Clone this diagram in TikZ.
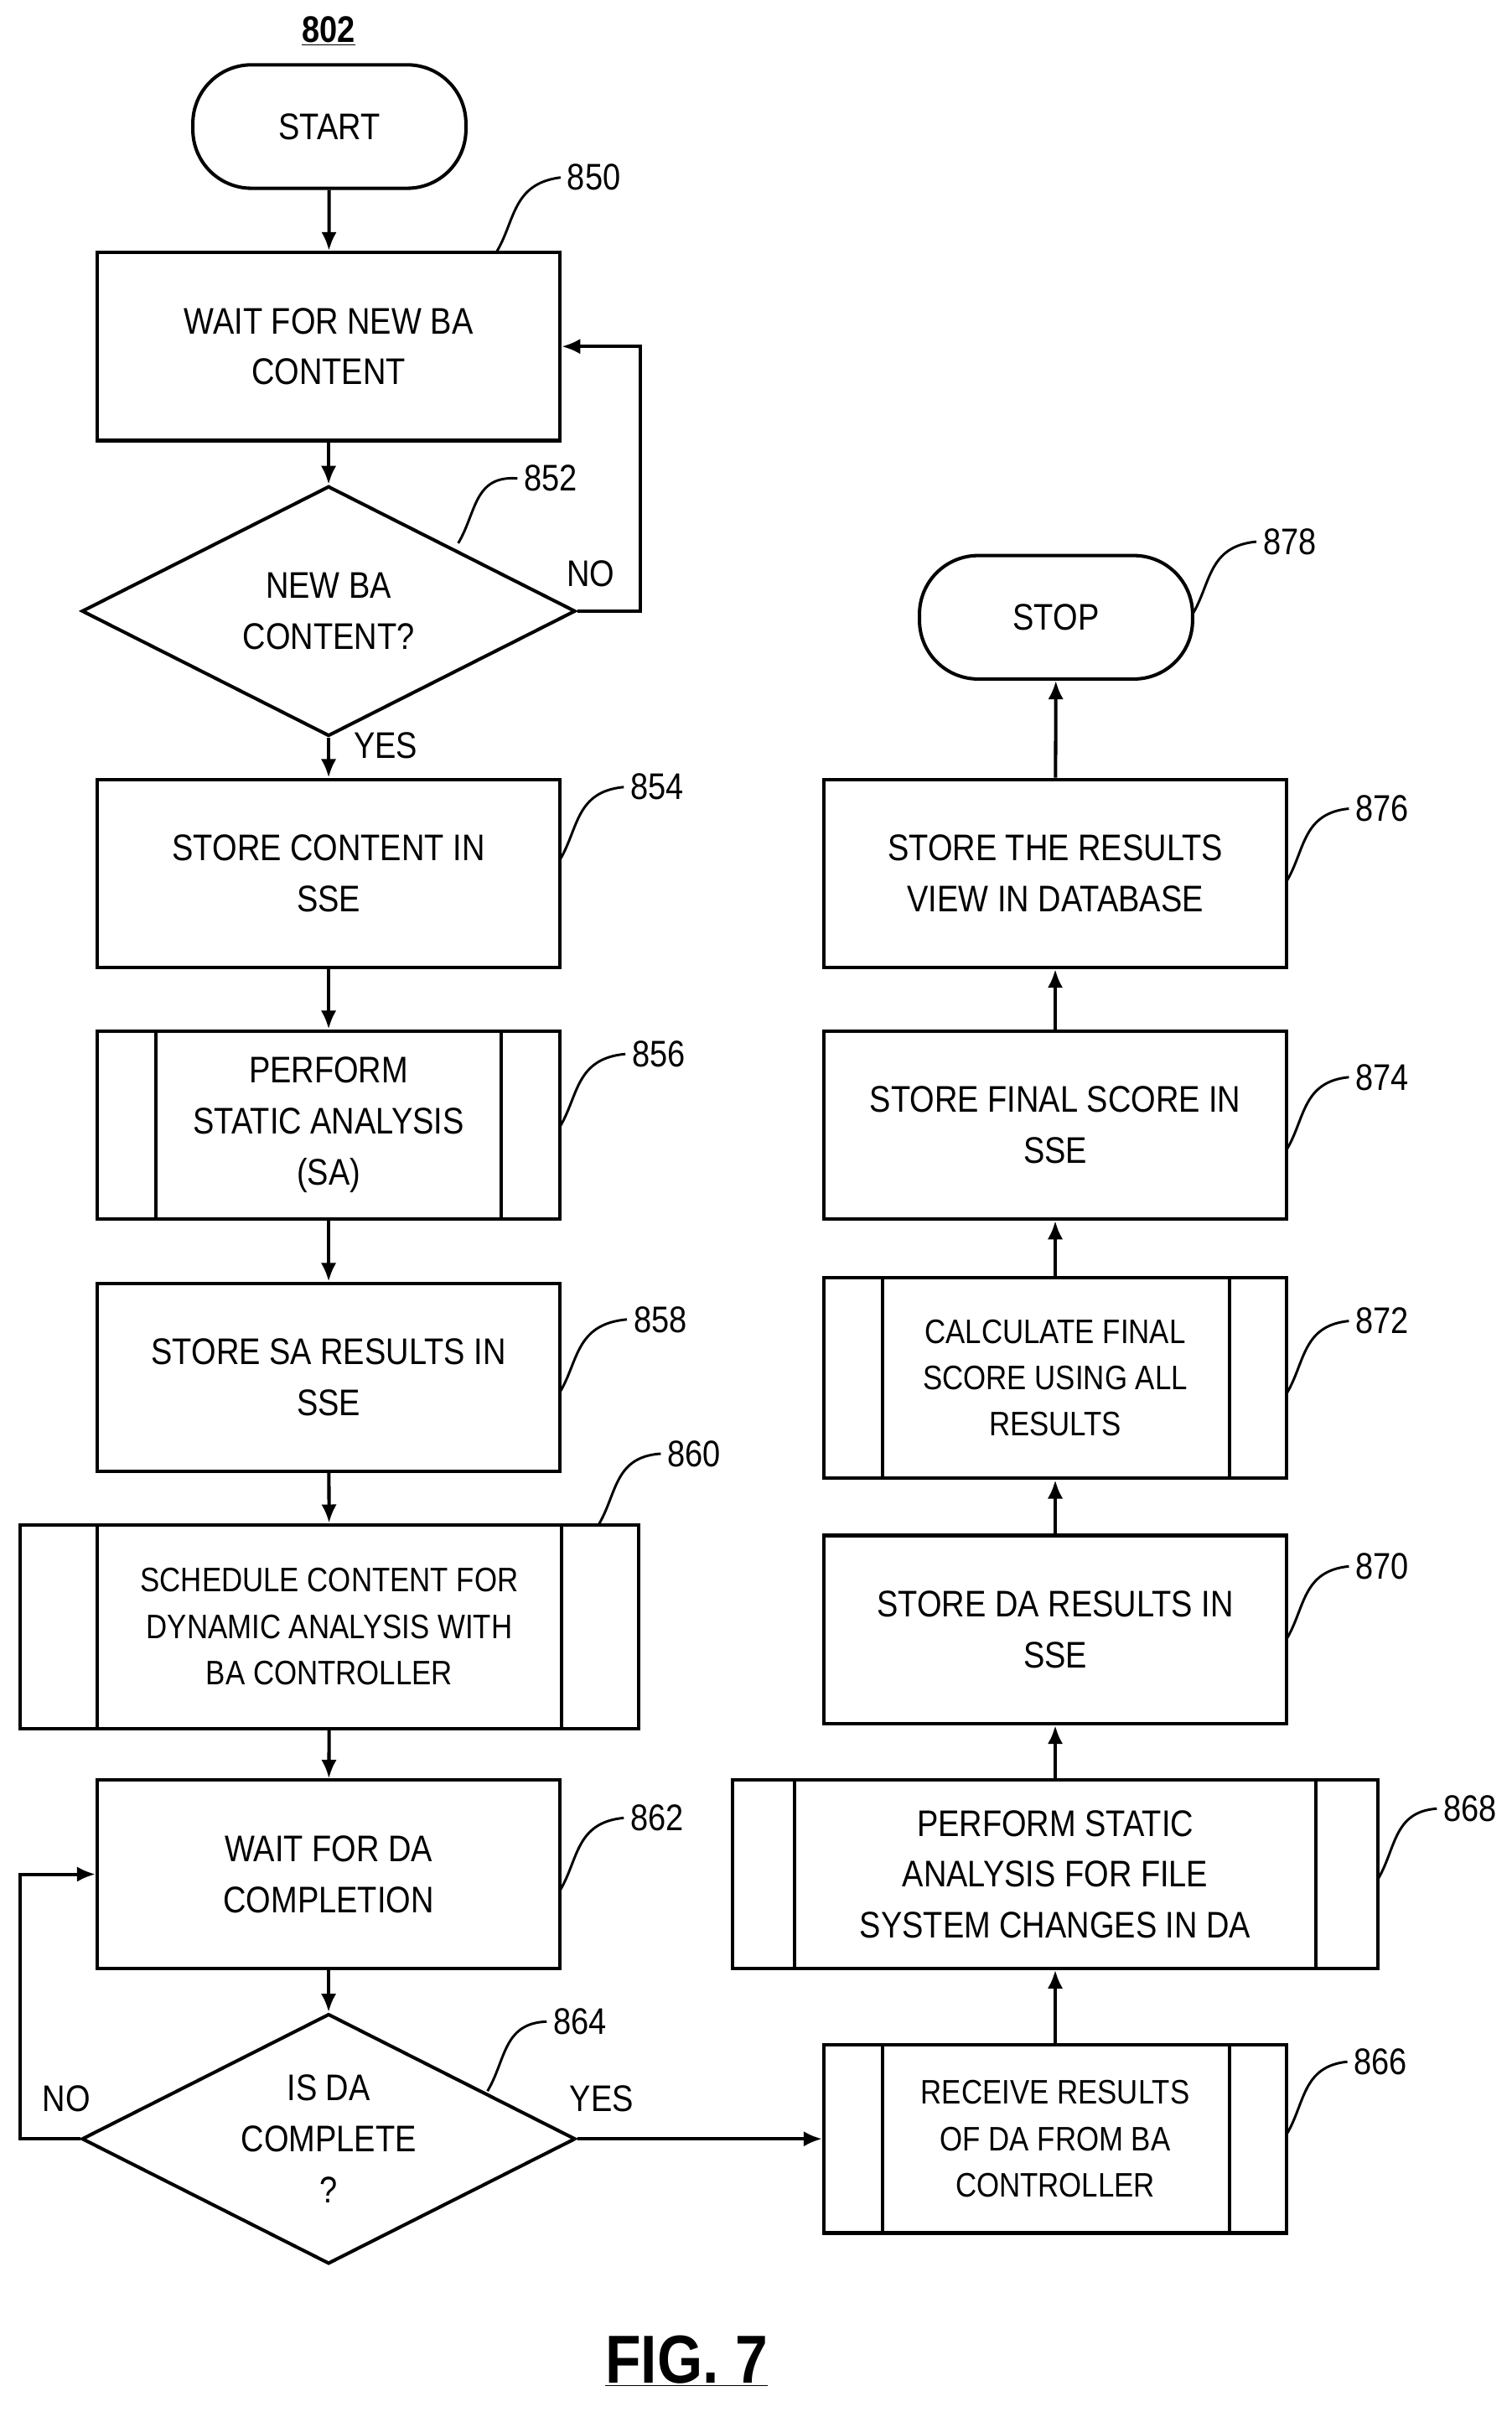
\documentclass[tikz,border=0pt]{standalone}
\usepackage{fontspec}
\setmainfont{Liberation Sans}[FakeStretch=0.86]
\usetikzlibrary{shapes.geometric,arrows.meta}
\begin{document}
\begin{tikzpicture}[x=1pt,y=-1pt,line width=2.2pt,
 txt/.style={font=\fontsize{24}{33}\selectfont,align=center},
 box/.style={draw,txt,minimum width=300,minimum height=122,inner sep=0},
 term/.style={draw,txt,rounded corners=38,minimum width=177,minimum height=80},
 dia/.style={draw,txt,diamond,aspect=1.975,minimum width=320,minimum height=162,inner sep=0},
 lab/.style={font=\fontsize{24}{28}\selectfont},
 arr/.style={-{Latex[length=12,width=10]}},
 lead/.style={line width=1.6pt}]
\useasboundingbox (0,0) rectangle (980,1563);
\node[font=\bfseries\fontsize{24}{28}\selectfont] (t802) at (213,20) {\underline{802}};
\node[term] (start) at (213.5,82) {START};
\node[box] (b850) at (213,224.5) {WAIT FOR NEW BA\\CONTENT};
\node[dia] (d852) at (213,396) {NEW BA\\CONTENT?};
\node[box] (b854) at (213,566) {STORE CONTENT IN\\SSE};
\node[box] (b856) at (213,729) {PERFORM\\STATIC ANALYSIS\\(SA)};
\draw (101,668) -- (101,790) (325,668) -- (325,790);
\node[box] (b858) at (213,892.5) {STORE SA RESULTS IN\\SSE};
\node[box,minimum width=401,minimum height=132,font=\fontsize{22}{30}\selectfont] (b860) at (213.5,1054) {SCHEDULE CONTENT FOR\\DYNAMIC ANALYSIS WITH\\BA CONTROLLER};
\draw (63,988) -- (63,1120) (364,988) -- (364,1120);
\node[box] (b862) at (213,1214.5) {WAIT FOR DA\\COMPLETION};
\node[dia] (d864) at (213,1386) {IS DA\\COMPLETE\\?};
\node[box,font=\fontsize{22}{30}\selectfont] (b866) at (684,1386) {RECEIVE RESULTS\\OF DA FROM BA\\CONTROLLER};
\draw (572,1325) -- (572,1447) (797,1325) -- (797,1447);
\node[box,minimum width=418] (b868) at (684,1214.5) {PERFORM STATIC\\ANALYSIS FOR FILE\\SYSTEM CHANGES IN DA};
\draw (515,1153) -- (515,1276) (853,1153) -- (853,1276);
\node[box] (b870) at (684,1056) {STORE DA RESULTS IN\\SSE};
\node[box,minimum height=130,font=\fontsize{22}{30}\selectfont] (b872) at (684,893) {CALCULATE FINAL\\SCORE USING ALL\\RESULTS};
\draw (572,828) -- (572,958) (797,828) -- (797,958);
\node[box] (b874) at (684,729) {STORE FINAL SCORE IN\\SSE};
\node[box] (b876) at (684,566) {STORE THE RESULTS\\VIEW IN DATABASE};
\node[term] (stop) at (684.5,400) {STOP};
% arrows
\draw[arr] (start) -- (b850);
\draw[arr] (b850) -- (d852);
\draw[arr] (d852.east) -- ++(41,0) coordinate (c1) |- (b850.east);
\node[lab] (no1) at (383,372) {NO};
\draw[arr] (d852) -- (b854);
\node[lab] (yes1) at (250,483) {YES};
\draw[arr] (b854) -- (b856);
\draw[arr] (b856) -- (b858);
\draw[arr] (b858) -- (b860);
\draw[arr] (b860) -- (b862);
\draw[arr] (b862) -- (d864);
\draw[arr] (d864.west) -- (13,1386) coordinate (c2) |- (b862.west);
\node[lab] (no2) at (43,1360) {NO};
\draw[arr] (d864.east) -- (b866.west);
\node[lab] (yes2) at (390,1360) {YES};
\draw[arr] (b866) -- (b868);
\draw[arr] (b868) -- (b870);
\draw[arr] (b870) -- (b872);
\draw[arr] (b872) -- (b874);
\draw[arr] (b874) -- (b876);
\draw[arr] (b876) -- (stop);
% labels
\foreach \n/\x/\y/\sx/\sy in {850/385/115/322/163, 852/357/310/297/352, 854/426/510/363/557, 856/427/683/363/730, 858/428/855/363/902, 860/450/942/388/988, 862/426/1178/363/1225, 864/376/1310/316/1355, 866/895/1336/834/1383, 868/953/1172/893/1218, 870/896/1015/834/1062, 872/896/856/834/903, 874/896/698/834/745, 876/896/524/834/571, 878/836/351/773/398}{
 \node[lab] (l\n) at (\x,\y) {\n};
 \draw[lead] (\sx,\sy) .. controls (\sx+12,\sy-20) and (\sx+10,\sy-44) .. (l\n.west);
}
\node[font=\bfseries\fontsize{44}{50}\selectfont] (fig) at (445,1530) {\underline{FIG. 7}};
\end{tikzpicture}
\end{document}
